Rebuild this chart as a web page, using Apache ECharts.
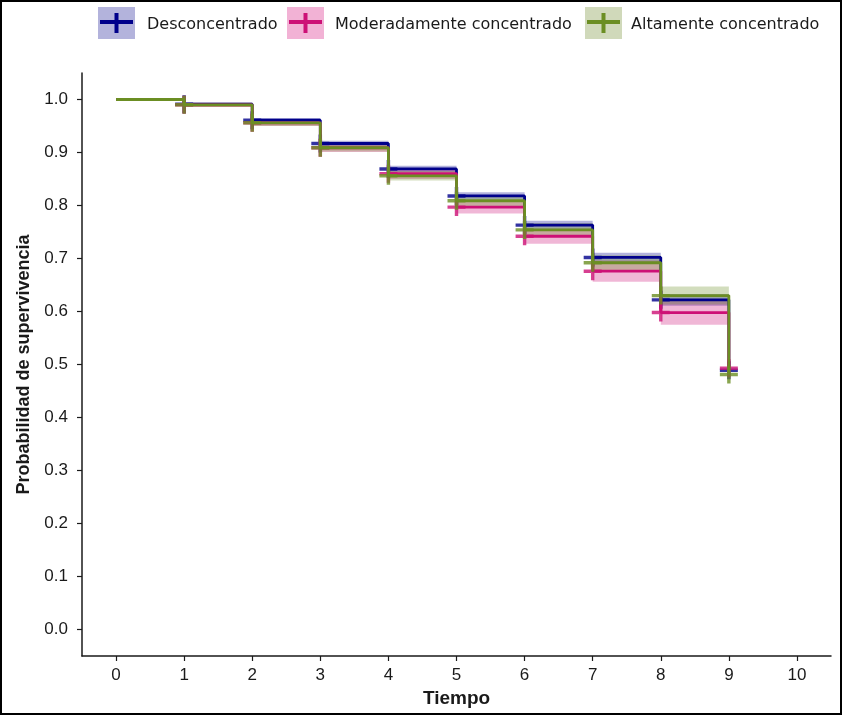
<!DOCTYPE html>
<html><head><meta charset="utf-8">
<script src="https://cdn.jsdelivr.net/npm/echarts@6/dist/echarts.min.js"></script>
<style>html,body{margin:0;padding:0;background:#fff}#c{width:842px;height:715px}</style>
</head><body><div id="c"></div>
<script>
// ---- data ----
const times = [0, 1, 2, 3, 4, 5, 6, 7, 8, 9];
const xTicks = [0, 1, 2, 3, 4, 5, 6, 7, 8, 9, 10];
const yTicks = [0, 0.1, 0.2, 0.3, 0.4, 0.5, 0.6, 0.7, 0.8, 0.9, 1.0];
const groupNames = ['Desconcentrado', 'Moderadamente concentrado', 'Altamente concentrado'];

const survDes  = [1, 0.991, 0.961, 0.917, 0.869, 0.818, 0.763, 0.702, 0.622, 0.489];
const lowerDes = [1, 0.988, 0.957, 0.912, 0.863, 0.811, 0.755, 0.693, 0.611];
const upperDes = [1, 0.994, 0.965, 0.922, 0.875, 0.825, 0.771, 0.711, 0.633];

const survMod  = [1, 0.990, 0.956, 0.909, 0.860, 0.797, 0.742, 0.676, 0.598, 0.493];
const lowerMod = [1, 0.986, 0.950, 0.901, 0.850, 0.785, 0.728, 0.656, 0.575];
const upperMod = [1, 0.994, 0.962, 0.917, 0.870, 0.809, 0.756, 0.696, 0.621];

const survAlt  = [1, 0.990, 0.956, 0.909, 0.856, 0.809, 0.754, 0.692, 0.630, 0.481];
const lowerAlt = [1, 0.986, 0.950, 0.902, 0.847, 0.798, 0.741, 0.678, 0.613];
const upperAlt = [1, 0.994, 0.962, 0.916, 0.865, 0.820, 0.767, 0.706, 0.647];

// ---- styles ----
const lineColors = ['#00008B', '#CD1076', '#6B8E23'];
const fillColors = ['rgba(0,0,139,0.3)', 'rgba(205,16,118,0.3)', 'rgba(107,142,35,0.3)'];
const keyColors = ['#B3B3DC', '#F2B2D5', '#D0D9BA'];
const FONT = 'Liberation Sans, Arial, sans-serif';
const LEGFONT = 'DejaVu Sans, Verdana, sans-serif';
const PLUS = 'path://M8.1,0h3.8v20h-3.8z M0,8.1h20v3.8h-20z';

const groups = [
  {surv: survDes, lo: lowerDes, hi: upperDes},
  {surv: survMod, lo: lowerMod, hi: upperMod},
  {surv: survAlt, lo: lowerAlt, hi: upperAlt}
];

const series = [];
groups.forEach((g, k) => {
  series.push({
    type: 'custom', name: groupNames[k] + ' IC', z: 1, silent: true,
    data: times.slice(0, -1).map((t, i) => [t, times[i + 1], g.lo[i], g.hi[i]]),
    encode: {x: [0, 1], y: [2, 3]},
    renderItem: (params, api) => {
      const p0 = api.coord([api.value(0), api.value(3)]);
      const p1 = api.coord([api.value(1), api.value(2)]);
      return {type: 'rect', shape: {x: p0[0], y: p0[1], width: p1[0] - p0[0], height: Math.max(p1[1] - p0[1], 0.5)},
              style: {fill: fillColors[k]}};
    }
  });
});
groups.forEach((g, k) => {
  series.push({
    type: 'line', name: groupNames[k], step: 'end', z: 3 + k, showSymbol: false, silent: true,
    data: times.map((t, i) => [t, g.surv[i]]),
    lineStyle: {color: lineColors[k], width: 2.8}
  });
  series.push({
    type: 'scatter', name: groupNames[k] + ' censura', z: 3 + k, silent: true,
    symbol: PLUS, symbolSize: 18,
    data: times.slice(1).map((t, i) => [t, g.surv[i + 1]]),
    itemStyle: {color: lineColors[k]}
  });
});

// legend drawn as graphics
const keyX = [98, 287, 585];
const textX = [147, 335, 631];
const graphics = [
  {type: 'rect', shape: {x: 1, y: 1, width: 840, height: 713}, style: {fill: 'none', stroke: '#000', lineWidth: 2}, silent: true}
];
groupNames.forEach((n, k) => {
  const x = keyX[k];
  graphics.push({type: 'rect', shape: {x: x, y: 7, width: 37, height: 32}, style: {fill: keyColors[k]}});
  graphics.push({type: 'rect', shape: {x: x + 2, y: 20, width: 33, height: 4}, style: {fill: lineColors[k]}});
  graphics.push({type: 'rect', shape: {x: x + 16.5, y: 13, width: 4, height: 20}, style: {fill: lineColors[k]}});
  graphics.push({type: 'text', x: textX[k], y: 25, style: {text: n, font: '16px ' + LEGFONT, fill: '#1a1a1a', verticalAlign: 'middle'}});
});

const chart = echarts.init(document.getElementById('c'));
chart.setOption({
  animation: false,
  backgroundColor: '#fff',
  grid: {left: 82, right: 11, top: 73, bottom: 59, containLabel: false},
  xAxis: {
    type: 'value', min: -0.5, max: 10.5,
    name: 'Tiempo', nameLocation: 'middle', nameGap: 32,
    nameTextStyle: {fontFamily: FONT, fontSize: 19, fontWeight: 'bold', color: '#1a1a1a'},
    axisLine: {show: true, onZero: false, lineStyle: {color: '#1a1a1a', width: 1.5}},
    axisTick: {show: true, length: 5, customValues: xTicks, lineStyle: {color: '#1a1a1a', width: 1.2}},
    axisLabel: {customValues: xTicks, margin: 11, fontFamily: FONT, fontSize: 17, color: '#1a1a1a'},
    splitLine: {show: false}
  },
  yAxis: {
    type: 'value', min: -0.05, max: 1.05,
    name: 'Probabilidad de supervivencia', nameLocation: 'middle', nameGap: 42,
    nameTextStyle: {fontFamily: FONT, fontSize: 18, fontWeight: 'bold', color: '#1a1a1a'},
    axisLine: {show: true, onZero: false, lineStyle: {color: '#1a1a1a', width: 1.5}},
    axisTick: {show: true, length: 5, customValues: yTicks, lineStyle: {color: '#1a1a1a', width: 1.2}},
    axisLabel: {customValues: yTicks, margin: 14, fontFamily: FONT, fontSize: 17, color: '#1a1a1a',
                formatter: v => Number(v).toFixed(1)},
    splitLine: {show: false}
  },
  graphic: graphics,
  series: series
});
</script>
</body></html>
